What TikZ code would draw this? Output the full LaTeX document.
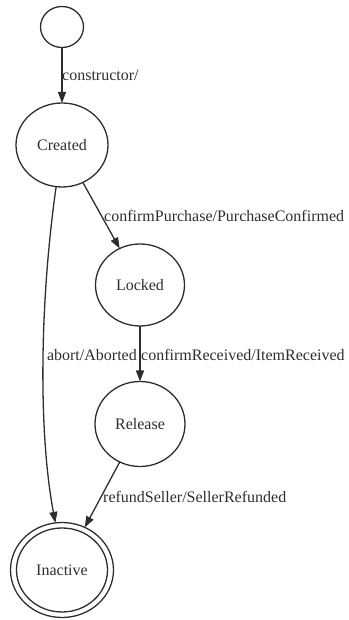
\documentclass[tikz,border=0pt]{standalone}
\usepackage{fontspec}
\setmainfont{Liberation Serif}
\usetikzlibrary{shapes.geometric,arrows.meta}
\definecolor{ink}{HTML}{2E2E2E}
\begin{document}
\begin{tikzpicture}[x=1pt,y=1pt,
  state/.style={draw=ink,line width=1.3pt,ellipse,inner sep=0pt,outer sep=0pt,text=ink,font=\fontsize{16}{19}\selectfont},
  lbl/.style={inner sep=0pt,text=ink,font=\fontsize{16}{19}\selectfont},
  edge/.style={draw=ink,line width=1.3pt,-{Triangle[length=11pt,width=8pt]}}]
\useasboundingbox (0,0) rectangle (348,620);
\node[state,minimum width=43pt,minimum height=41pt] (init) at (62,593) {};
\node[state,minimum width=92pt,minimum height=84pt] (created) at (62,475) {Created};
\node[state,minimum width=89pt,minimum height=82pt] (locked) at (140,335) {Locked};
\node[state,minimum width=90pt,minimum height=85pt] (release) at (140,196) {Release};
\node[state,minimum width=103pt,minimum height=95pt] (inactive) at (62,50) {Inactive};
\draw[ink,line width=1.3pt] (inactive.center) ellipse [x radius=45.5pt, y radius=42pt];
\draw[edge] (init) -- (created);
\draw[edge] (created) -- (locked);
\draw[edge] (locked) -- (release);
\draw[edge] (release) -- (inactive);
\draw[edge] (created.262) .. controls (40,320) and (38,190) .. (inactive.98);
\node[lbl,anchor=west] (l1) at (62,545) {constructor/};
\node[lbl,anchor=west] (l2) at (104,404) {confirmPurchase/PurchaseConfirmed};
\node[lbl,anchor=east] (l3) at (137,265) {abort/Aborted};
\node[lbl,anchor=west] (l4) at (141,265) {confirmReceived/ItemReceived};
\node[lbl,anchor=west] (l5) at (103,123) {refundSeller/SellerRefunded};
\end{tikzpicture}
\end{document}
